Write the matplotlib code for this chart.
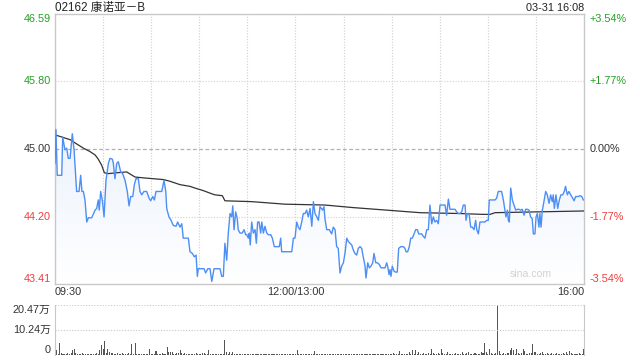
import numpy as np
import matplotlib
matplotlib.use("Agg")
import matplotlib.pyplot as plt
from matplotlib.colors import LinearSegmentedColormap
from matplotlib.transforms import blended_transform_factory

plt.rcParams['font.family'] = ['Liberation Sans', 'Noto Sans CJK SC', 'DejaVu Sans']

title = "02162 康诺亚－B"
stamp = "03-31 16:08"
prev_close = 45.00
y_low, y_high = 43.41, 46.59
price_ticks = [46.59, 45.80, 45.00, 44.20, 43.41]
pct_labels = ["+3.54%", "+1.77%", "0.00%", "-1.77%", "-3.54%"]
time_labels = ["09:30", "12:00/13:00", "16:00"]
vol_max = 20.47
vol_labels = ["20.47万", "10.24万", "0"]

# minutes after 09:30 (trading minutes, lunch removed) and last price
price_t = [0, 0.6, 1.4, 4.2, 4.8, 6.2, 7.3, 8.3, 9.4, 10.8, 11.9, 13.5, 15.0, 16.0, 16.8, 17.7,
           18.7, 19.8, 20.8, 22.9, 25.0, 26.0, 27.0, 27.6, 28.5, 29.5, 30.6, 31.8, 33.3, 34.3, 35.8,
           36.4, 37.4, 38.5, 39.5, 41.0, 42.2, 43.7, 45.1, 46.2, 47.2, 48.5, 49.5, 50.5, 52.0, 53.0,
           54.1, 55.5, 57.2, 58.7, 59.7, 61.0, 62.0, 63.0, 64.5, 66.6, 68.0, 69.1, 69.7, 71.1, 72.4,
           73.8, 75.5, 76.5, 78.0, 79.1, 80.0,
           81.1, 83.2, 84.2, 85.7, 86.9, 88.0, 88.8, 89.4, 91.5, 93.0, 94.0, 95.3, 96.7, 97.8, 99.2,
           100.9, 102.9, 104.0, 105.0, 106.0, 107.1, 108.1, 109.2, 110.2, 110.9, 111.7, 112.7, 113.7,
           114.3, 115.4, 116.8, 117.9, 119.0, 119.6, 120.6, 121.2, 121.8, 122.7, 123.7, 124.8, 125.6,
           126.4, 127.3, 128.3, 129.0, 130.0, 131.0, 132.1, 133.1, 134.6, 135.6, 136.8, 138.3, 139.9,
           140.8, 141.4, 143.0, 144.5, 146.6, 147.7, 148.7, 149.7, 150.8, 151.8, 152.8, 153.9, 154.9,
           156.0, 157.0, 158.0, 159.1, 160.2, 161.2, 162.2, 163.3, 164.3,
           165.3, 167.0, 167.8, 168.4, 169.5, 171.1, 172.6, 173.6, 174.7, 175.7, 176.7, 177.8, 178.8,
           179.9, 180.9, 182.0, 183.0, 184.0, 185.1, 186.1, 187.1, 188.2, 189.2, 190.3, 191.3, 192.3,
           193.4, 194.0, 195.1, 196.1, 197.1, 198.2, 199.0, 200.1, 201.1, 202.3, 203.4, 204.8, 205.9,
           206.9, 207.5, 208.4, 209.0, 209.6, 210.4, 211.5, 212.5, 213.5, 214.4, 215.7, 217.3, 218.3,
           219.0, 220.0, 221.0, 221.9, 222.9, 224.0, 225.0, 226.0, 226.9, 227.7, 228.7, 229.8, 230.8,
           231.9, 232.9, 233.9, 235.0, 236.0, 237.0, 238.1, 239.1, 240.2, 241.2, 242.2, 243.3, 244.3,
           245.4, 246.4, 247.4, 248.5, 249.5, 250.6, 251.6, 252.6,
           253.7, 254.7, 255.8, 256.4, 257.2, 258.3, 259.3, 260.3, 261.4, 262.4, 263.1, 264.1, 265.1,
           266.2, 267.2, 268.2, 269.3, 270.3, 270.9, 272.4, 274.5, 275.5, 276.5, 277.6, 278.6, 279.7,
           280.7, 281.3, 282.2, 282.8, 283.4, 284.3, 285.3, 286.3, 287.4, 288.4, 289.4, 290.5, 291.5,
           292.6, 293.6, 294.6, 295.7, 296.7, 297.7, 298.4, 299.4, 300.1, 300.9, 301.9, 302.5, 303.2,
           304.0, 305.0, 306.1, 307.1, 308.2, 309.2, 310.2, 310.8, 311.5, 312.5, 313.6, 314.6, 315.6,
           316.7, 317.7, 318.5, 319.6, 320.6, 321.7, 322.7, 323.8, 324.8, 326.4, 327.5, 328.6, 329.6]
price_v = [44.83, 45.23, 44.69, 44.69, 45.14, 44.99, 45.01, 44.89, 44.89, 45.18, 44.99, 44.50, 44.50,
           44.69, 44.50, 44.50, 44.40, 44.14, 44.19, 44.19, 44.28, 44.30, 44.40, 44.28, 44.50, 44.40,
           44.20, 44.63, 44.83, 44.89, 44.88, 44.83, 44.65, 44.83, 44.85, 44.73, 44.71, 44.63, 44.50,
           44.33, 44.44, 44.44, 44.58, 44.65, 44.65, 44.50, 44.46, 44.50, 44.50, 44.42, 44.39, 44.44,
           44.40, 44.50, 44.50, 44.50, 44.63, 44.50, 44.30, 44.20, 44.16, 44.10, 44.09, 44.14, 44.08,
           44.12, 43.95,
           43.95, 43.95, 43.79, 43.77, 43.73, 43.75, 43.50, 43.59, 43.59, 43.59, 43.54, 43.59, 43.59,
           43.44, 43.59, 43.59, 43.59, 43.50, 43.50, 43.89, 43.69, 44.01, 44.24, 44.20, 44.33, 44.05,
           44.26, 44.18, 44.05, 44.01, 44.01, 44.05, 43.99, 43.99, 43.95, 44.01, 43.87, 44.14, 44.01,
           44.05, 43.89, 44.14, 44.14, 44.01, 44.14, 44.01, 44.09, 44.01, 43.99, 43.99, 43.95, 43.85,
           43.85, 43.85, 43.95, 43.79, 43.79, 43.79, 43.79, 43.79, 43.95, 43.95, 44.14, 44.08, 44.05,
           44.14, 44.24, 44.24, 44.28, 44.20, 44.30, 44.09, 44.38, 44.24, 44.20, 44.16,
           44.32, 44.28, 44.32, 44.18, 44.05, 44.05, 44.00, 44.08, 44.05, 43.85, 43.83, 43.54, 43.62,
           43.66, 43.77, 43.95, 43.91, 43.89, 43.87, 43.81, 43.77, 43.75, 43.83, 43.85, 43.83, 43.73,
           43.62, 43.48, 43.66, 43.60, 43.62, 43.66, 43.77, 43.66, 43.66, 43.64, 43.60, 43.60, 43.60,
           43.66, 43.62, 43.52, 43.58, 43.50, 43.62, 43.56, 43.55, 43.55, 43.83, 43.85, 43.85, 43.83,
           43.79, 43.79, 43.85, 43.95, 43.95, 44.00, 44.05, 44.05, 44.00, 44.00, 44.00, 43.97, 43.95,
           44.05, 44.05, 44.34, 44.12, 44.20, 44.14, 44.16, 44.12, 44.34, 44.34, 44.34, 44.34, 44.22,
           44.41, 44.29, 44.29, 44.29, 44.29, 44.26, 44.24, 44.24,
           44.26, 44.34, 44.34, 44.16, 44.24, 44.24, 44.08, 44.08, 44.05, 44.16, 44.05, 44.00, 44.14,
           44.14, 44.14, 44.14, 44.16, 44.16, 44.40, 44.40, 44.40, 44.42, 44.50, 44.50, 44.50, 44.40,
           44.28, 44.20, 44.28, 44.16, 44.14, 44.54, 44.40, 44.34, 44.28, 44.29, 44.29, 44.28, 44.29,
           44.22, 44.29, 44.29, 44.28, 44.20, 44.18, 44.00, 44.00, 44.20, 44.24, 44.08, 44.24, 44.08,
           44.28, 44.38, 44.50, 44.46, 44.36, 44.46, 44.38, 44.46, 44.30, 44.46, 44.30, 44.40, 44.46,
           44.46, 44.50, 44.56, 44.46, 44.50, 44.46, 44.43, 44.39, 44.44, 44.44, 44.45, 44.44, 44.40]

# average price line
avg_t = [1.1, 9.4, 13.5, 17.7, 21.8, 25.0, 27.0, 29.1, 30.8, 33.3, 38.5, 44.7, 49.9, 55.1, 61.3,
         67.6, 71.7, 78.0, 84.2, 87.3, 92.5, 96.7, 99.8, 104.4, 106.0, 122.7, 143.5, 168.4, 185.9,
         206.9, 227.7, 252.6, 267.0, 271.4, 274.5, 329.6]
avg_v = [45.16, 45.11, 45.06, 45.01, 44.97, 44.93, 44.88, 44.81, 44.72, 44.71, 44.72, 44.73, 44.67,
         44.66, 44.65, 44.64, 44.62, 44.58, 44.56, 44.54, 44.51, 44.48, 44.46, 44.45, 44.39, 44.38,
         44.35, 44.34, 44.31, 44.28, 44.25, 44.24, 44.23, 44.23, 44.25, 44.27]

# volume per minute, in 万 shares
volume = [
    1.4, 2.0, 0.6, 5.0, 0.8, 0.5, 0.6, 0.4, 0.7, 0.5, 0.9, 2.0, 2.5, 0.8, 0.6, 0.4, 0.5, 0.7, 0.4, 0.6,
    0.5, 0.4, 0.6, 0.5, 0.3, 0.5, 0.7, 0.6, 2.0, 4.1, 2.5, 5.9, 0.9, 2.5, 1.4, 0.7, 1.0, 0.6, 0.5, 0.8,
    0.6, 0.4, 0.7, 0.5, 0.4, 0.6, 0.8, 0.5, 4.5, 0.6, 5.0, 0.5, 0.4, 0.6, 0.5, 0.3, 0.4, 0.5, 0.6, 2.5,
    0.5, 0.4, 0.6, 1.8, 0.5, 0.3, 0.4, 0.8, 0.5, 0.6, 3.4, 1.4, 1.2, 1.2, 0.6, 0.5, 0.9, 0.7, 2.0, 1.0,
    0.5, 0.7, 0.4, 0.5, 0.6, 0.4, 0.5, 0.6, 0.8, 0.5, 0.6, 0.4, 0.7, 0.9, 0.6, 0.5, 2.0, 0.6, 0.4, 0.5,
    0.6, 0.4, 0.5, 0.3, 0.6, 0.5, 6.1, 1.2, 0.6, 1.2, 0.5, 1.2, 0.6, 0.4, 0.5, 0.6, 0.3, 0.5, 0.4, 0.6,
    0.4, 0.5, 0.3, 0.6, 0.4, 0.5, 0.4, 0.3, 0.5, 0.6, 0.4, 0.3, 0.5, 0.4, 0.6, 0.3, 0.4, 0.5, 0.3, 0.4,
    0.5, 0.3, 0.4, 0.6, 0.4, 0.3, 0.5, 0.4, 0.3, 0.5, 0.4, 2.0, 0.5, 0.4, 0.3, 0.5, 0.4, 0.6, 0.3, 0.4,
    0.5, 0.4, 1.8, 0.4, 0.3, 0.5, 0.4, 0.3, 0.4, 0.5, 0.3, 0.4, 0.5, 0.3, 0.4, 0.3, 0.5, 0.4, 0.3, 0.4,
    0.5, 0.3, 0.4, 0.5, 0.3, 0.4, 0.3, 0.5, 0.4, 0.3, 0.4, 0.5, 0.3, 0.4, 0.3, 0.5, 0.4, 0.6, 0.3, 0.4,
    0.5, 0.4, 0.3, 0.5, 0.4, 0.3, 0.6, 0.4, 0.5, 0.3, 0.4, 0.7, 0.4, 0.5, 0.3, 1.8, 0.4, 0.5, 0.6, 0.4,
    0.5, 1.2, 0.6, 2.0, 0.5, 2.0, 0.6, 1.2, 0.6, 0.5, 0.8, 0.6, 0.5, 0.7, 0.6, 2.5, 0.8, 0.6, 0.5, 0.7,
    0.6, 2.5, 0.7, 0.5, 0.6, 1.2, 0.5, 0.4, 0.6, 0.5, 0.7, 0.4, 0.6, 0.5, 1.2, 0.6, 0.4, 0.7, 1.2, 0.5,
    0.6, 0.4, 0.7, 0.5, 0.6, 0.5, 1.2, 0.8, 5.0, 1.2, 0.6, 2.5, 0.7, 0.5, 0.6, 0.8, 20.47, 1.8, 0.6, 0.5,
    0.7, 0.6, 0.9, 0.7, 2.0, 3.0, 2.0, 0.6, 2.5, 0.8, 0.5, 0.7, 2.5, 1.8, 0.6, 0.5, 0.7, 0.8, 4.4, 1.2,
    1.2, 0.6, 0.5, 0.7, 1.2, 0.6, 0.5, 0.8, 0.6, 0.4, 0.7, 0.5, 0.6, 0.8, 0.5, 0.6, 0.4, 0.8, 0.6, 1.2,
    0.5, 1.8, 0.7, 0.6, 0.5, 0.4, 0.6, 0.7, 0.5, 0.6, 2.5]

GREEN = '#22a022'
RED = '#f03c3c'
DARK = '#333333'
BORDER = '#c8c8c8'
FS = 7.8

fig = plt.figure(figsize=(6.4, 3.6), dpi=100)
W, H = 640, 360
ax = fig.add_axes([55 / W, 1 - 284 / H, 529 / W, 270 / H])
axv = fig.add_axes([55 / W, 1 - 355 / H, 529 / W, 50 / H])

# price panel
n_min = len(volume) - 1
ax.set_xlim(0, n_min)
ax.set_ylim(y_low, y_high)
fill = ax.fill_between(price_t, price_v, y_low, color='none', lw=0)
cmap = LinearSegmentedColormap.from_list('fade', ['#ffffff', '#dce8fb'])
grad = np.linspace(1, 0, 200).reshape(-1, 1)
im = ax.imshow(grad, extent=[0, n_min, y_low, y_high], aspect='auto', cmap=cmap,
               origin='upper', zorder=1)
im.set_clip_path(fill.get_paths()[0], ax.transData)
ax.set_xlim(0, n_min)
ax.set_ylim(y_low, y_high)

for m in range(30, n_min, 30):
    ax.axvline(m, color='#d0d0d0', lw=0.8, ls=(0, (1, 1.5)), zorder=0.5)
for p in price_ticks[1:-1]:
    if p == prev_close:
        ax.axhline(p, color='#b0b0b0', lw=0.9, ls=(0, (3, 2)), zorder=0.5)
    else:
        ax.axhline(p, color='#d0d0d0', lw=0.8, ls=(0, (1, 1.5)), zorder=0.5)

ax.plot(avg_t, avg_v, color='#333333', lw=0.9, zorder=3)
ax.plot(price_t, price_v, color='#4d8ff5', lw=1.0, zorder=4)

ax.set_xticks([])
ax.set_yticks([])
for s in ax.spines.values():
    s.set_color(BORDER)
    s.set_linewidth(1.0)

ty = blended_transform_factory(ax.transAxes, ax.transData)
for i, (p, pl) in enumerate(zip(price_ticks, pct_labels)):
    col = GREEN if p > prev_close else (RED if p < prev_close else DARK)
    va = 'top' if i == 0 else ('bottom' if i == len(price_ticks) - 1 else 'center')
    ax.text(-0.008, p, f"{p:.2f}", transform=ty, ha='right', va=va, color=col, fontsize=FS)
    ax.text(1.010, p, pl, transform=ty, ha='left', va=va, color=col, fontsize=FS)

ax.text(0.9, 0.02, "sina.com", transform=ax.transAxes, ha='center', va='bottom',
        color='#d2d2d2', fontsize=7.6, zorder=5)

# time labels
tx = blended_transform_factory(ax.transData, fig.transFigure)
ty_time = 1 - 292 / H
ax.text(0, ty_time, time_labels[0], transform=tx, ha='left', va='center', fontsize=FS, color=DARK)
ax.text(150, ty_time, time_labels[1], transform=tx, ha='center', va='center', fontsize=FS, color=DARK)
ax.text(n_min, ty_time, time_labels[2], transform=tx, ha='right', va='center', fontsize=FS, color=DARK)

# header
fig.text(55 / W, 1 - 8 / H, title, ha='left', va='center', fontsize=8.4, color='#222222')
fig.text(584 / W, 1 - 8 / H, stamp, ha='right', va='center', fontsize=FS, color='#222222')

# volume panel
axv.bar(np.arange(len(volume)), volume, width=0.65, color='#555555', lw=0, align='center')
axv.set_xlim(0, n_min)
axv.set_ylim(0, vol_max)
axv.axhline(vol_max, color='#c8c8c8', lw=0.8, ls=(0, (1, 1.5)))
axv.axhline(vol_max / 2, color='#c8c8c8', lw=0.8, ls=(0, (1, 1.5)))
axv.set_xticks([])
axv.set_yticks([])
axv.spines['top'].set_visible(False)
axv.spines['bottom'].set_visible(False)
axv.spines['left'].set_color(BORDER)
axv.spines['right'].set_color(BORDER)

tyv = blended_transform_factory(axv.transAxes, axv.transData)
axv.text(-0.008, vol_max, vol_labels[0], transform=tyv, ha='right', va='top', fontsize=FS, color=DARK)
axv.text(-0.008, vol_max / 2, vol_labels[1], transform=tyv, ha='right', va='center', fontsize=FS, color=DARK)
axv.text(-0.008, 0, vol_labels[2], transform=tyv, ha='right', va='bottom', fontsize=FS, color=DARK)

fig.savefig("out.png", dpi=100)
